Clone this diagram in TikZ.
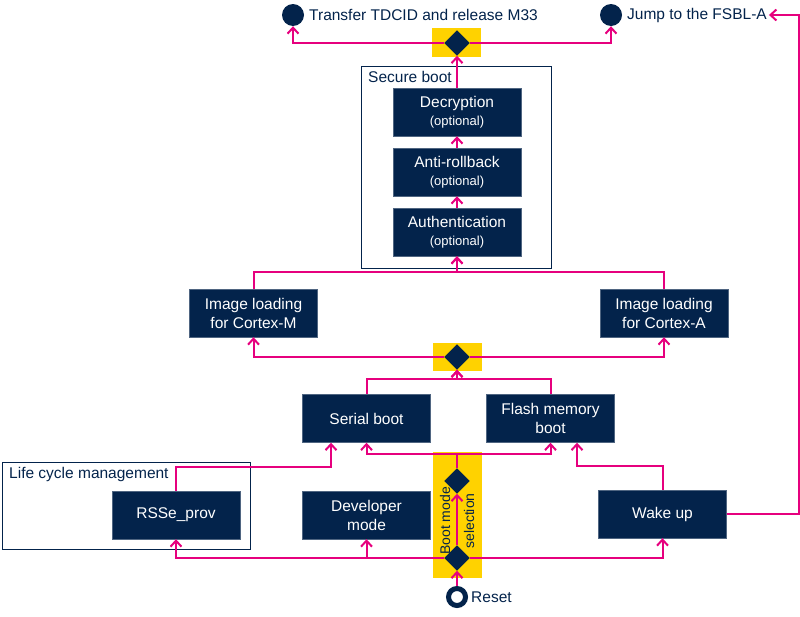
\documentclass[tikz,border=0pt]{standalone}
\usepackage{fontspec}
\setmainfont{Liberation Sans}
\usetikzlibrary{arrows.meta,positioning,shapes.geometric}
\definecolor{navy}{HTML}{03234B}
\definecolor{pink}{HTML}{E6007E}
\definecolor{gold}{HTML}{FFD200}
\tikzset{
  stepbox/.style={draw=navy!70, fill=navy, text=white, align=center,
                  minimum width=128pt, minimum height=48pt, inner sep=2pt,
                  font=\fontsize{15.5}{19}\selectfont},
  chooser/.style={diamond, fill=navy, inner sep=0pt, minimum width=25pt, minimum height=25pt},
  band/.style={fill=gold},
  frame/.style={draw=navy, line width=0.9pt},
  endpt/.style={circle, fill=navy, inner sep=0pt, minimum size=22pt},
  txt/.style={text=navy, font=\fontsize{15.5}{19}\selectfont, inner sep=2pt},
  ar/.style={-{Straight Barb[length=6pt,width=11pt]}, line width=2pt, draw=pink},
  ln/.style={line width=2pt, draw=pink}
}
\newcommand{\opt}{\\[-1pt]{\fontsize{13}{15}\selectfont(optional)}}
\begin{document}
\begin{tikzpicture}[x=1pt,y=-1pt]
  \useasboundingbox (0,0) rectangle (800,616);

  % yellow bands behind the choices
  \fill[band] (432,28) rectangle (481,57);
  \fill[band] (433,343) rectangle (482,371);
  \fill[band] (433,452) rectangle (482,578);

  % frames
  \draw[frame] (361,66) rectangle (551,268);
  \node[txt, anchor=north west] (sblbl) at (366,69) {Secure boot};
  \draw[frame] (2,462) rectangle (250,549);
  \node[txt, anchor=north west] (lclbl) at (7,465) {Life cycle management};

  % end points
  \node[endpt] (tdcid) at (293,15) {};
  \node[txt, anchor=west] (tdcidtxt) at (307,15) {Transfer TDCID and release M33};
  \node[endpt] (fsbl) at (611,15) {};
  \node[txt, anchor=west] (fsbltxt) at (625,15) {Jump to the FSBL-A};
  \node[circle, draw=navy, fill=white, line width=5pt, inner sep=0pt, minimum size=17pt] (reset) at (457,597) {};
  \node[txt, anchor=west] (resettxt) at (469,597) {Reset};

  % secure boot steps
  \node[stepbox] (dec) at (457,112) {Decryption\opt};
  \node[stepbox] (anti) at (457,172) {Anti-rollback\opt};
  \node[stepbox] (auth) at (457,232) {Authentication\opt};

  % image loading
  \node[stepbox] (imgM) at (253.5,313) {Image loading\\for Cortex-M};
  \node[stepbox] (imgA) at (664,313) {Image loading\\for Cortex-A};

  % boot sources
  \node[stepbox] (serial) at (366.5,418.5) {Serial boot};
  \node[stepbox] (flash) at (550.5,418.5) {Flash memory\\boot};
  \node[stepbox] (rsse) at (176,515) {RSSe\_prov};
  \node[stepbox] (dev) at (366.5,515) {Developer\\mode};
  \node[stepbox] (wake) at (662.5,514) {Wake up};

  % choices
  \node[chooser] (dtop) at (457,43) {};
  \node[chooser] (dmid) at (457,357) {};
  \node[chooser] (dsel) at (457,481) {};
  \node[chooser] (dres) at (457,558) {};

  % connectors
  \draw[ar] (reset.north) -- (dres.south);
  \draw[ar] (dres.north) -- (dsel.south);
  \draw[ar] (dres.west) -| (rsse.south);
  \draw[ar] (dres.west) -| (dev.south);
  \draw[ar] (dres.east) -| (wake.south);
  \draw[ar] (dsel.north) -- ++(0,-14) -| (serial.south);
  \draw[ar] (dsel.north) -- ++(0,-14) -| (flash.south);
  \draw[ar] (rsse.north) -- ++(0,-24) -| ([xshift=-35.5pt]serial.south);
  \draw[ar] (wake.north) -- ++(0,-24) -| ([xshift=26.5pt]flash.south);
  \draw[ar] (wake.east) -- ++(72,0) |- (fsbltxt.east);
  \draw[ar] (serial.north) -- ++(0,-15) -| (dmid.south);
  \draw[ar] (flash.north) -- ++(0,-15) -| (dmid.south);
  \draw[ar] (dmid.west) -| (imgM.south);
  \draw[ar] (dmid.east) -| (imgA.south);
  \draw[ar] (imgM.north) -- ++(0,-17) -| (auth.south);
  \draw[ar] (imgA.north) -- ++(0,-17) -| (auth.south);
  \draw[ar] (auth.north) -- (anti.south);
  \draw[ar] (anti.north) -- (dec.south);
  \draw[ar] (dec.north) -- (dtop.south);
  \draw[ar] (dtop.west) -| (tdcid.south);
  \draw[ar] (dtop.east) -| (fsbl.south);

  % redraw the choices over the lines
  \foreach \d in {dtop,dmid,dsel,dres} {
    \fill[navy] (\d.north) -- (\d.east) -- (\d.south) -- (\d.west) -- cycle;
  }

  \node[txt, rotate=90, align=center, font=\fontsize{14}{24}\selectfont] (bmsel) at (457,521) {Boot mode\\selection};
\end{tikzpicture}
\end{document}
